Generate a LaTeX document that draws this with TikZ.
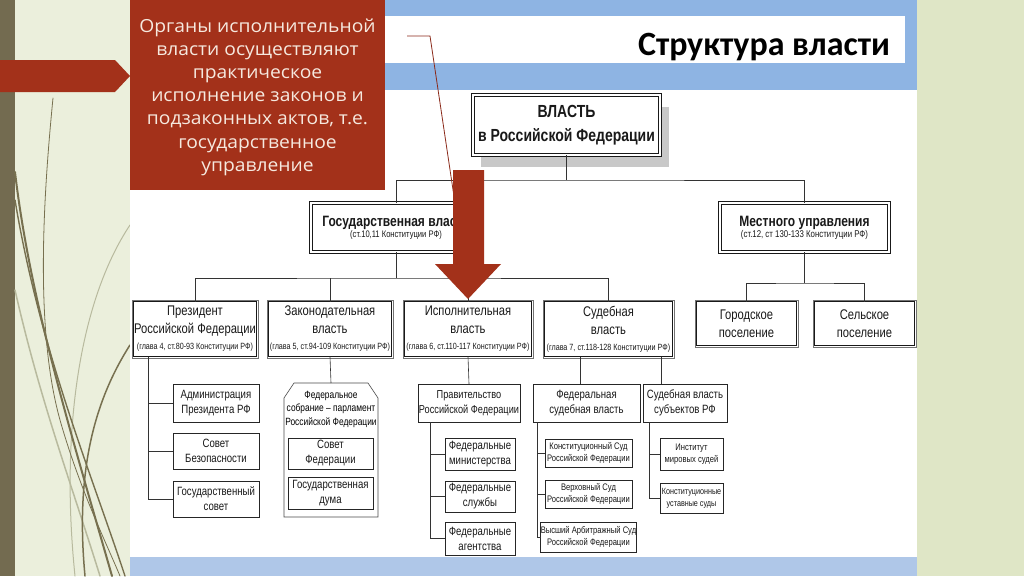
\documentclass[tikz,border=0pt]{standalone}
\usepackage{fontspec}
\setmainfont{Liberation Sans}
\newfontfamily\narrowf[FakeStretch=0.8]{Liberation Sans}
\newfontfamily\gothic[FakeStretch=1.07]{Open Sans}
\newfontfamily\titlef{Carlito}
\usetikzlibrary{calc}
\definecolor{slidebg}{HTML}{EBEFDC}
\definecolor{rightbg}{HTML}{DFE6C6}
\definecolor{olivebar}{HTML}{736B50}
\definecolor{redbox}{HTML}{A3311A}
\definecolor{bluetop}{HTML}{8EB4E3}
\definecolor{bluebot}{HTML}{AFC7E8}
\definecolor{txtcream}{HTML}{F6E9DF}
\definecolor{shadowc}{HTML}{C8C8C8}
\definecolor{curvec}{HTML}{77704F}
\definecolor{curvelight}{HTML}{B8BA9E}
\definecolor{pointer}{HTML}{8B2A1A}
\begin{document}
\begin{tikzpicture}[x=1pt,y=-1pt,
  box/.style={draw=black!85, line width=0.6pt, fill=white, inner sep=0pt, outer sep=0pt, align=center, text=black!90},
  rowbox/.style={draw=black!90, line width=0.9pt, fill=white, inner sep=0pt, outer sep=0pt, align=center, text=black!90},
  outerframe/.style={draw=black!55, line width=0.5pt},
  heavybox/.style={draw=black!90, line width=1pt, double=white, double distance=1.4pt, fill=white, inner sep=0pt, outer sep=0pt, align=center, text=black!90},
  conn/.style={draw=black!80, line width=0.6pt},
  curvedark/.style={draw=curvec, line cap=round},
  curvefaint/.style={draw=curvelight, line cap=round},
  bigtxt/.style={font=\narrowf\fontsize{14}{18}\selectfont},
  midtxt/.style={font=\narrowf\fontsize{12}{15}\selectfont},
  smtxt/.style={font=\narrowf\fontsize{9.5}{12}\selectfont}
]
\useasboundingbox (0,0) rectangle (1024,576);
% backgrounds
\fill[slidebg] (0,0) rectangle (1024,576);
\fill[rightbg] (917,0) rectangle (1024,576);
\fill[olivebar] (0,0) rectangle (15,576);
% decorative curves
\draw[curvefaint, line width=1.5pt] (15,290) .. controls (40,400) and (70,480) .. (100,576);
\draw[curvefaint, line width=1pt] (130,225) .. controls (80,300) and (60,430) .. (75,576);
\draw[curvedark, line width=0.8pt] (53,98) .. controls (43,200) and (35,330) .. (60,420) .. controls (80,490) and (105,540) .. (120,576);
\draw[curvedark, line width=2pt] (15,172) .. controls (30,300) and (70,430) .. (112,576);
\draw[curvedark, line width=1.4pt] (15,200) .. controls (40,350) and (90,470) .. (125,576);
\draw[curvedark, line width=1.5pt] (130,345) .. controls (95,400) and (75,470) .. (85,576);
% slide areas
\fill[bluetop] (130,0) rectangle (917,90);
\fill[white] (130,90) rectangle (917,557);
\fill[bluebot] (130,557) rectangle (917,576);
\fill[white] (385,16) rectangle (905,63);
\node[font=\titlef\bfseries\fontsize{34}{38}\selectfont, anchor=base east, inner sep=0pt] (title) at (890,55) {Структура власти};

% top box
\fill[shadowc] (481,107) rectangle (669,167);
\node[heavybox, minimum width=187, minimum height=60, font=\narrowf\bfseries\fontsize{17.5}{24}\selectfont] (vlast) at (566.5,125) {ВЛАСТЬ\\в Российской Федерации};

% second row
\node[heavybox, minimum width=170, minimum height=49] (gos) at (396,227.5)
  {{\narrowf\bfseries\fontsize{15}{18}\selectfont Государственная власть}\\[-1pt]{\narrowf\fontsize{9.5}{10}\selectfont (ст.10,11 Конституции РФ)}};
\node[heavybox, minimum width=169, minimum height=49] (mest) at (804.5,227.5)
  {{\narrowf\bfseries\fontsize{15}{18}\selectfont Местного управления}\\[-1pt]{\narrowf\fontsize{9.8}{10}\selectfont (ст.12, ст 130-133 Конституции РФ)}};

% third row
\node[rowbox, bigtxt, minimum width=123, minimum height=55] (pres) at (195,329)
  {Президент\\Российской Федерации\\[-2pt]{\fontsize{9}{9}\selectfont (глава 4, ст.80-93 Конституции РФ)}};
\node[rowbox, bigtxt, minimum width=123, minimum height=55] (zak) at (330,329)
  {Законодательная\\власть\\[-2pt]{\fontsize{9}{9}\selectfont (глава 5, ст.94-109 Конституции РФ)}};
\node[rowbox, bigtxt, minimum width=127, minimum height=55] (isp) at (468,329)
  {Исполнительная\\власть\\[-2pt]{\fontsize{9}{9}\selectfont (глава 6, ст.110-117 Конституции РФ)}};
\node[rowbox, bigtxt, minimum width=128, minimum height=55] (sud) at (608.5,329)
  {Судебная\\власть\\[-2pt]{\fontsize{9}{9}\selectfont (глава 7, ст.118-128 Конституции РФ)}};
\node[rowbox, bigtxt, minimum width=100, minimum height=44] (gor) at (746.5,323.5) {Городское\\поселение};
\node[rowbox, bigtxt, minimum width=100, minimum height=44] (sel) at (864.5,323.5) {Сельское\\поселение};
\foreach \n in {pres,zak,isp,sud,gor,sel}
  \draw[outerframe] ($(\n.north west)+(-1.6,-1.6)$) rectangle ($(\n.south east)+(1.6,1.6)$);

% president subtree
\node[box, midtxt, minimum width=86, minimum height=38] (adm) at (216,403) {Администрация\\Президента РФ};
\node[box, midtxt, minimum width=86, minimum height=36] (sovbez) at (216,451) {Совет\\Безопасности};
\node[box, midtxt, minimum width=86, minimum height=36] (gsov) at (216,499) {Государственный\\совет};

% federal assembly
\node[inner sep=0pt, outer sep=0pt, minimum width=94, minimum height=134] (fs) at (331,450) {};
\draw[draw=black!70, line width=0.6pt, fill=white] ($(fs.north west)+(0,15)$) -- ($(fs.north west)+(10,0)$) -- ($(fs.north east)+(-10,0)$) -- ($(fs.north east)+(0,15)$) -- (fs.south east) -- (fs.south west) -- cycle;
\node[font=\narrowf\fontsize{10.5}{13.5}\selectfont, align=center, inner sep=0pt] (fstext) at (331,409) {Федеральное\\собрание – парламент\\Российской Федерации};
\node[box, midtxt, minimum width=85, minimum height=31] (sf) at (330.5,453.5) {Совет\\Федерации};
\node[box, midtxt, minimum width=85, minimum height=32] (gd) at (330.5,493) {Государственная\\дума};

% executive subtree
\node[box, font=\narrowf\fontsize{11.5}{15}\selectfont, minimum width=102, minimum height=38] (prav) at (469,403) {Правительство\\Российской Федерации};
\node[box, midtxt, minimum width=70, minimum height=32] (fm) at (480,454) {Федеральные\\министерства};
\node[box, midtxt, minimum width=70, minimum height=31] (fsl) at (480,496.5) {Федеральные\\службы};
\node[box, midtxt, minimum width=70, minimum height=33] (fa) at (480,538.5) {Федеральные\\агентства};

% judicial subtree
\node[box, midtxt, minimum width=107, minimum height=38] (fsv) at (586.5,403) {Федеральная\\судебная власть};
\node[box, midtxt, minimum width=84, minimum height=38] (ssv) at (685,403) {Судебная власть\\субъектов РФ};
\node[box, smtxt, minimum width=87, minimum height=28] (ks) at (588.5,453) {Конституционный Суд\\Российской Федерации};
\node[box, smtxt, minimum width=87, minimum height=28] (vs) at (588.5,494) {Верховный Суд\\Российской Федерации};
\node[box, smtxt, minimum width=87, minimum height=30] (vas) at (588.5,537) {Высший Арбитражный Суд\\Российской Федерации};
\node[box, smtxt, minimum width=63, minimum height=32] (ims) at (691.5,454) {Институт\\мировых судей};
\node[box, font=\narrowf\fontsize{9}{12}\selectfont, minimum width=63, minimum height=30] (kus) at (691.5,498) {Конституционные\\уставные суды};

% connectors
\coordinate (j1) at (566.5,180);
\coordinate (j2) at (396,278);
\coordinate (j3) at (804.5,283);
\draw[conn] (vlast.south) -- (j1);
\draw[conn] (gos.north) |- (j1) -| (mest.north);
\draw[conn] (gos.south) -- (j2);
\draw[conn] (pres.north) |- (j2) -| (sud.north);
\draw[conn] (zak.north) -- (zak.north |- j2);
\draw[conn] (isp.north) -- (isp.north |- j2);
\draw[conn] (mest.south) -- (j3);
\draw[conn] (gor.north) |- (j3) -| (sel.north);
\draw[conn] ([xshift=-47pt]pres.south) |- (adm.west);
\draw[conn] ([xshift=-47pt]pres.south) |- (sovbez.west);
\draw[conn] ([xshift=-47pt]pres.south) |- (gsov.west);
\draw[conn] (zak.south) -- (fs.north);
\draw[conn] (isp.south) -- (prav.north);
\draw[conn] ([xshift=-39pt]prav.south) |- (fm.west);
\draw[conn] ([xshift=-39pt]prav.south) |- (fsl.west);
\draw[conn] ([xshift=-39pt]prav.south) |- (fa.west);
\draw[conn] ([xshift=-28.5pt]sud.south) -- ([xshift=-6.5pt]fsv.north);
\draw[conn] ([xshift=52.5pt]sud.south) -- ([xshift=-24pt]ssv.north);
\draw[conn] ([xshift=-49.5pt]fsv.south) |- (ks.west);
\draw[conn] ([xshift=-49.5pt]fsv.south) |- (vs.west);
\draw[conn] ([xshift=-49.5pt]fsv.south) |- (vas.west);
\draw[conn] ([xshift=-36pt]ssv.south) |- (ims.west);
\draw[conn] ([xshift=-36pt]ssv.south) |- (kus.west);

% red callout
\node[fill=redbox, minimum width=255, minimum height=190, inner sep=0pt, outer sep=0pt] (callout) at (257.5,95) {};
\node[font=\gothic\fontsize{18}{23.2}\selectfont, text=txtcream, align=center, inner sep=0pt] (callouttext) at (257.5,97)
  {Органы исполнительной\\власти осуществляют\\практическое\\исполнение законов и\\подзаконных актов, т.е.\\государственное\\управление};
\coordinate (ptr0) at (407,36);
\coordinate (ptr1) at (430,36);
\coordinate (ptr2) at (462,250);
\draw[pointer, line width=0.8pt] (ptr0) -- (ptr1) -- (ptr2);
% left red arrow
\fill[redbox] (0,60) -- (115,60) -- (130,76) -- (115,92) -- (0,92) -- cycle;
% big red arrow
\fill[redbox] (453,170) -- (484,170) -- (484,264) -- (501,264) -- (468,299) -- (435,264) -- (453,264) -- cycle;
\end{tikzpicture}
\end{document}
